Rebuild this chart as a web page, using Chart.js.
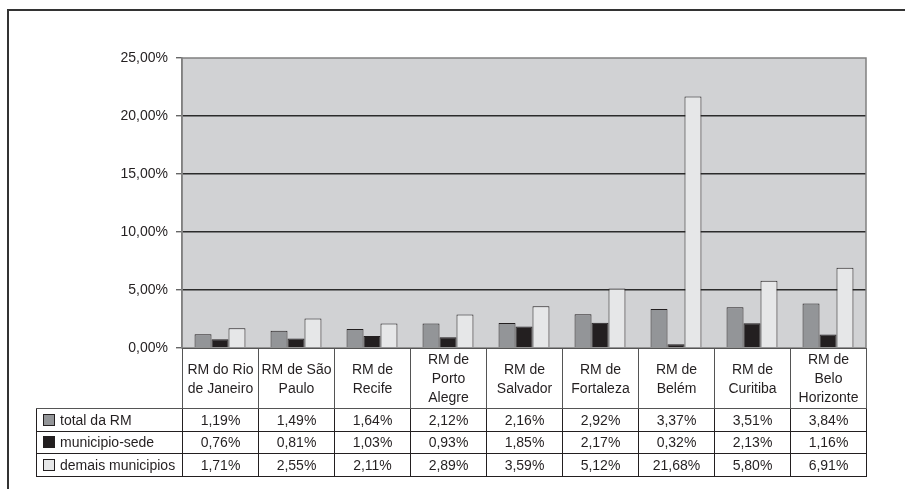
<!DOCTYPE html>
<html lang="pt">
<head>
<meta charset="UTF-8">
<title>Taxa por RM</title>
<script src="https://cdn.jsdelivr.net/npm/chart.js"></script>
<style>
  body { margin: 0; background: #fff; font-family: "Liberation Sans", Arial, sans-serif; }
  #wrap { position: relative; width: 905px; height: 489px; overflow: hidden; }
  #frame { position: absolute; left: 7px; top: 9px; width: 905px; height: 490px;
           border-top: 2px solid #333; border-left: 2px solid #333; }
  canvas { position: absolute; left: 0; top: 0; }
  #tbl { position: absolute; left: 36px; top: 348px; border-collapse: collapse;
         font-size: 14px; color: #231f20; table-layout: fixed; }
  #tbl td { border: 1px solid #231f20; padding: 0; text-align: center; }
  #tbl tr.head td { height: 59px; line-height: 19px; border-color: #555; }
  #tbl tr.head td.blank { border-top: none; border-left: none; }
  #tbl tr.row td { height: 21.5px; line-height: 20px; }
  #tbl td.lbl { text-align: left; white-space: nowrap; padding-left: 6px; }
  .key { display: inline-block; width: 10px; height: 10px; border: 1px solid #231f20;
         vertical-align: -1px; margin-right: 5px; }
</style>
</head>
<body>
<div id="wrap">
  <div id="frame"></div>
  <canvas id="chart" width="905" height="489"></canvas>
  <table id="tbl"></table>
</div>
<script>
// categories (multi-line labels as drawn in the table header)
const categories = [
  ["RM do Rio", "de Janeiro"],
  ["RM de São", "Paulo"],
  ["RM de", "Recife"],
  ["RM de", "Porto", "Alegre"],
  ["RM de", "Salvador"],
  ["RM de", "Fortaleza"],
  ["RM de", "Belém"],
  ["RM de", "Curitiba"],
  ["RM de", "Belo", "Horizonte"]
];
const seriesNames = ["total da RM", "municipio-sede", "demais municipios"];
const totalRM = [1.19, 1.49, 1.64, 2.12, 2.16, 2.92, 3.37, 3.51, 3.84];
const municipioSede = [0.76, 0.81, 1.03, 0.93, 1.85, 2.17, 0.32, 2.13, 1.16];
const demaisMunicipios = [1.71, 2.55, 2.11, 2.89, 3.59, 5.12, 21.68, 5.80, 6.91];
const yTicks = [0, 5, 10, 15, 20, 25];

const colors = ["#939598", "#231f20", "#e6e7e8"];
const allSeries = [totalRM, municipioSede, demaisMunicipios];

function fmt(v) { return v.toFixed(2).replace(".", ",") + "%"; }

// plot background + border
const plotBg = {
  id: "plotBg",
  beforeDraw(chart) {
    const { ctx, chartArea: a } = chart;
    ctx.save();
    ctx.fillStyle = "#d1d2d4";
    ctx.fillRect(a.left, a.top, a.right - a.left, a.bottom - a.top);
    ctx.restore();
  },
  afterDatasetsDraw(chart) {
    const { ctx, chartArea: a } = chart;
    ctx.save();
    ctx.strokeStyle = "#808080";
    ctx.lineWidth = 1.5;
    ctx.strokeRect(a.left, a.top, a.right - a.left, a.bottom - a.top);
    ctx.restore();
  }
};

new Chart(document.getElementById("chart"), {
  type: "bar",
  data: {
    labels: categories,
    datasets: seriesNames.map((name, i) => ({
      label: name,
      data: allSeries[i],
      backgroundColor: colors[i],
      borderColor: "#231f20",
      borderWidth: 1,
      barPercentage: 1.0,
      categoryPercentage: 0.67
    }))
  },
  options: {
    responsive: false,
    animation: false,
    layout: { padding: { left: 0, top: 58, right: 39, bottom: 141 } },
    plugins: { legend: { display: false }, tooltip: { enabled: false } },
    scales: {
      x: { display: false },
      y: {
        min: 0,
        max: 25,
        afterFit(scale) { scale.width = 182; },
        afterBuildTicks(scale) { scale.ticks = yTicks.map(v => ({ value: v })); },
        border: { display: true, color: "#808080", width: 1.5 },
        grid: {
          color: ctx => (ctx.tick.value === 0 || ctx.tick.value === 25) ? "rgba(0,0,0,0)" : "#2b2b2b",
          tickColor: "#666666",
          tickLength: 6,
          lineWidth: 1.4
        },
        ticks: {
          padding: 8,
          color: "#231f20",
          font: { family: "'Liberation Sans', Arial, sans-serif", size: 14 },
          callback: v => fmt(v)
        }
      }
    }
  },
  plugins: [plotBg]
});

// data table under the plot
const tbl = document.getElementById("tbl");
let html = '<colgroup><col style="width:146px">' + categories.map(() => '<col style="width:76px">').join("") + '</colgroup>';
html += '<tr class="head"><td class="blank"></td>' + categories.map(c => '<td>' + c.join("<br>") + '</td>').join("") + '</tr>';
seriesNames.forEach((name, i) => {
  html += '<tr class="row"><td class="lbl"><span class="key" style="background:' + colors[i] + '"></span>' + name + '</td>' +
    allSeries[i].map(v => '<td>' + fmt(v) + '</td>').join("") + '</tr>';
});
tbl.innerHTML = html;
</script>
</body>
</html>
